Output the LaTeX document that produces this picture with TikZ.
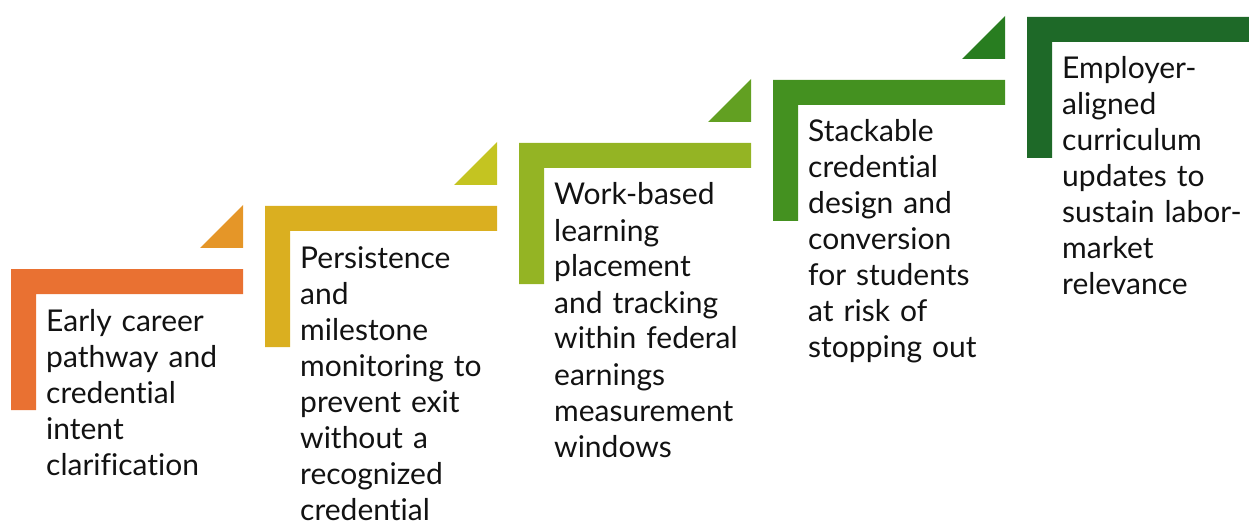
\documentclass[tikz,border=0pt]{standalone}
\usepackage{fontspec}
\setmainfont[Ligatures={NoCommon,NoRare}]{Lato}

\definecolor{stepA}{RGB}{233,113,50}
\definecolor{triA}{RGB}{229,150,40}
\definecolor{stepB}{RGB}{218,175,32}
\definecolor{triB}{RGB}{196,196,33}
\definecolor{stepC}{RGB}{148,180,36}
\definecolor{triC}{RGB}{98,160,34}
\definecolor{stepD}{RGB}{68,145,32}
\definecolor{triD}{RGB}{40,125,32}
\definecolor{stepE}{RGB}{30,105,40}

\tikzset{
    steptext/.style={anchor=base west, inner sep=0, text width=215, align=left,
        font=\fontsize{30}{36}\selectfont, text=black!93}
}

\begin{document}
\begin{tikzpicture}[x=1pt, y=-1pt]
    \useasboundingbox (0, 0) rectangle (1249, 521);

    \def\w{232};
    \def\t{25};
    \def\h{141};
    \def\tri{43};
    \def\gap{21};
    \def\tx{35};
    \def\ty{37};

    \def\xa{11};  \def\ya{269};
    \def\xb{265}; \def\yb{206};
    \def\xc{519}; \def\yc{143};
    \def\xd{773}; \def\yd{80};
    \def\xe{1027}; \def\ye{17};

% first step
    \fill[stepA] (\xa, \ya) -- (\xa + \w, \ya) -- (\xa + \w, \ya + \t) -- (\xa + \t, \ya + \t) -- (\xa + \t, \ya + \h) -- (\xa, \ya + \h) -- cycle;
    \fill[triA] (\xa + \w - \tri, \ya - \gap) -- (\xa + \w, \ya - \gap) -- (\xa + \w, \ya - \gap - \tri) -- cycle;
    \node[steptext] (early) at (\xa + \tx, \ya + \t + \ty) {Early career\\ pathway and\\ credential\\ intent\\ clarification};

% second step
    \fill[stepB] (\xb, \yb) -- (\xb + \w, \yb) -- (\xb + \w, \yb + \t) -- (\xb + \t, \yb + \t) -- (\xb + \t, \yb + \h) -- (\xb, \yb + \h) -- cycle;
    \fill[triB] (\xb + \w - \tri, \yb - \gap) -- (\xb + \w, \yb - \gap) -- (\xb + \w, \yb - \gap - \tri) -- cycle;
    \node[steptext] (persist) at (\xb + \tx, \yb + \t + \ty) {Persistence\\ and\\ milestone\\ monitoring to\\ prevent exit\\ without a\\ recognized\\ credential};

% third step
    \fill[stepC] (\xc, \yc) -- (\xc + \w, \yc) -- (\xc + \w, \yc + \t) -- (\xc + \t, \yc + \t) -- (\xc + \t, \yc + \h) -- (\xc, \yc + \h) -- cycle;
    \fill[triC] (\xc + \w - \tri, \yc - \gap) -- (\xc + \w, \yc - \gap) -- (\xc + \w, \yc - \gap - \tri) -- cycle;
    \node[steptext] (workbased) at (\xc + \tx, \yc + \t + \ty) {Work-based\\ learning\\ placement\\ and tracking\\ within federal\\ earnings\\ measurement\\ windows};

% fourth step
    \fill[stepD] (\xd, \yd) -- (\xd + \w, \yd) -- (\xd + \w, \yd + \t) -- (\xd + \t, \yd + \t) -- (\xd + \t, \yd + \h) -- (\xd, \yd + \h) -- cycle;
    \fill[triD] (\xd + \w - \tri, \yd - \gap) -- (\xd + \w, \yd - \gap) -- (\xd + \w, \yd - \gap - \tri) -- cycle;
    \node[steptext] (stackable) at (\xd + \tx, \yd + \t + \ty) {Stackable\\ credential\\ design and\\ conversion\\ for students\\ at risk of\\ stopping out};

% last step, no triangle
    \fill[stepE] (\xe, \ye) -- (\xe + \w, \ye) -- (\xe + \w, \ye + \t) -- (\xe + \t, \ye + \t) -- (\xe + \t, \ye + \h) -- (\xe, \ye + \h) -- cycle;
    \node[steptext] (employer) at (\xe + \tx, \ye + \t + \ty) {Employer-\\ aligned\\ curriculum\\ updates to\\ sustain labor-\\ market\\ relevance};

\end{tikzpicture}
\end{document}
